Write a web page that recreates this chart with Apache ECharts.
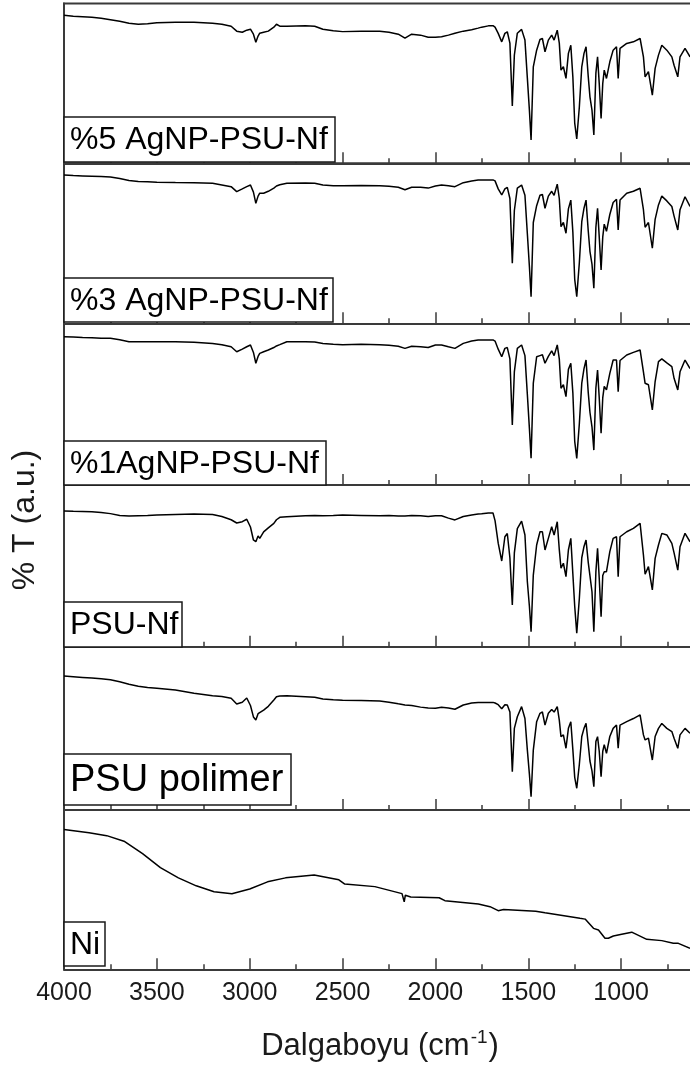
<!DOCTYPE html>
<html>
<head>
<meta charset="utf-8">
<script src="https://cdn.jsdelivr.net/npm/echarts@6/dist/echarts.min.js"></script>
<style>
html,body{margin:0;padding:0;background:#fff;}
#chart{width:690px;height:1070px;}
</style>
</head>
<body>
<div id="chart"></div>
<script>
// ---- DATA ----
const panelLabels = ['%5 AgNP-PSU-Nf', '%3 AgNP-PSU-Nf', '%1AgNP-PSU-Nf', 'PSU-Nf', 'PSU polimer', 'Ni'];
const xAxisTitle = 'Dalgaboyu (cm';
const xAxisTitleSup = '-1';
const yAxisTitle = '% T (a.u.)';

const wavenumbers = [
  4000, 3950, 3900, 3850, 3800, 3750, 3700, 3650, 3600, 3550, 3500,
  3400, 3300, 3200, 3150, 3100,
  3070, 3040, 3016, 2996, 2980, 2967, 2955, 2946, 2925, 2900, 2870, 2856, 2838,
  2800, 2700, 2650, 2606, 2550, 2500, 2400, 2300, 2250, 2200,
  2164, 2128, 2080, 2039, 2000, 1967, 1930, 1895, 1850, 1805, 1770, 1751, 1715, 1690, 1679,
  1662, 1643, 1626, 1613, 1599, 1586, 1575, 1559, 1536, 1518,
  1505, 1494, 1485, 1473, 1455, 1437, 1424, 1410, 1392, 1374,
  1361, 1344, 1333, 1324, 1311, 1297, 1284, 1271, 1260, 1250,
  1239, 1225, 1212, 1200, 1189, 1177, 1168, 1157, 1147, 1136,
  1127, 1118, 1108, 1099, 1091, 1079, 1061, 1043, 1025, 1016,
  1006, 970, 934, 898, 880, 871, 853, 832, 817, 799,
  781, 754, 727, 715, 695, 683, 656, 629
];

const psu5 = [
  92.7, 92, 91.7, 91.4, 90.8, 89.9, 88.9, 87.7, 87, 87.4, 88,
  88.3, 88.3, 87.7, 87, 85.8,
  82.7, 82, 83.3, 83.9, 80.8, 75.8, 79.6, 81.4, 82, 82.7, 85.2, 87, 85.8,
  85.8, 86, 85.8, 83.9, 83, 82.4, 82.7, 82.7, 82, 80.8,
  78.3, 80.8, 80.2, 78.9, 78.9, 79.2, 80.2, 81.4, 82.7, 83.6, 84.6, 85.2, 86, 86.1, 85.2,
  81.3, 76, 81.3, 82.3, 75.2, 35.8, 67.7, 81.4, 83.8, 77.1,
  53.3, 33.3, 14.6, 60.4, 70.8, 77.5, 78.1, 69.8, 77.1, 80.2,
  77.1, 83.3, 75.2, 58.3, 60.4, 53.1, 68.8, 73.9, 54.1, 25.2,
  15.2, 35.4, 60.4, 68.8, 72.9, 54.1, 41.6, 33.3, 17.7, 56.4,
  66.6, 50, 28.1, 50, 58.3, 53.1, 63.5, 70.8, 72.9, 53.1,
  71.9, 75, 76, 78.1, 66.6, 54.1, 57.3, 42.7, 59.4, 67.7,
  73.9, 70.8, 66.6, 61.4, 54.1, 66.6, 71.9, 66.6
];

const psu3 = [
  92.7, 92.3, 92.1, 91.9, 91.7, 91.4, 90.5, 89.2, 88.6, 88.4, 88.2,
  88, 87.9, 87.5, 86.5, 85.4,
  82.3, 84, 85.4, 86.4, 82, 75, 79.5, 81.3, 81.3, 82.5, 84.5, 85.8, 86.6,
  87.5, 87.7, 87.5, 86.5, 86, 86, 86.2, 86, 85.6, 85,
  83.5, 85, 85, 84.5, 85.8, 86.4, 86, 85.4, 87.9, 89, 89.6, 89.6, 89.6, 89.6, 89,
  84, 80.2, 84, 85, 78, 37.5, 70.5, 84.5, 86.4, 80,
  56, 35.5, 16.6, 63, 73.5, 80, 80.5, 71.9, 79.5, 82.5,
  80, 87, 78, 60.4, 63, 56.3, 71.5, 77, 57, 27.5,
  16.6, 38, 63.5, 72, 77, 57.5, 45, 37, 21.9, 60,
  71.9, 54, 33.3, 54, 62, 57.5, 68, 75.5, 77.5, 58.3,
  77, 81.3, 82.5, 84.4, 71, 60, 63, 46.9, 65, 74,
  79.5, 76.5, 73, 67, 58.3, 71, 79.1, 73
];

const psu1 = [
  91.7, 91.5, 91.2, 91, 90.8, 90.7, 89.8, 88.6, 88.6, 88.6, 88.6,
  88.6, 88.3, 87.5, 86.8, 85.5,
  82.4, 84, 85.5, 86.6, 82, 75.3, 79.5, 81.4, 82.4, 83.5, 85, 86, 86.8,
  88.6, 88.6, 88.4, 87.5, 87, 86.8, 87, 86.8, 86.4, 85.8,
  84.5, 85.8, 85.5, 85, 86.6, 86.6, 85.5, 84.5, 87.6, 89, 89.7, 89.7, 89.7, 89.7, 89,
  84, 79.3, 84.5, 85, 78, 37.1, 70, 84.5, 86.6, 80,
  56, 35, 16.5, 63, 79.3, 80, 80.5, 75.3, 79.5, 83,
  80, 86.6, 78, 59.8, 62, 54.6, 71.5, 75.3, 57, 27,
  16.5, 38, 63, 72, 77.3, 57, 45, 36, 21.6, 60,
  71.1, 54, 32, 54, 61, 58.8, 69, 77.3, 77.3, 57.7,
  77, 80.4, 82, 83.5, 70, 62.9, 62, 46.4, 64, 76.3,
  78, 75.5, 73.2, 66, 58.8, 70, 77.3, 72
];

const psuNf = [
  83.9, 83.7, 83.6, 83.4, 83, 82.3, 81.2, 80.8, 81, 81.2, 81.5,
  81.8, 82, 81.8, 80.5, 78.5,
  76.5, 77.3, 78.8, 74, 66, 64.9, 68.5, 67, 71, 73.5, 76.3, 78.5, 80,
  80.4, 81, 81.2, 81, 81.2, 81.4, 81.2, 81, 81.2, 80.8,
  80.8, 81.2, 81, 80.5, 81, 81, 79.5, 78.4, 80.5, 81.5, 82, 82.2, 82.7, 82.7, 78,
  64, 53, 68, 70, 55, 25.8, 58, 73, 77.7, 69.1,
  40.2, 25, 9.3, 44.3, 62.9, 71.1, 71.1, 59.8, 67, 74.2,
  69.1, 77.3, 60, 48.5, 51.6, 43.3, 59.8, 67, 45, 25,
  8.3, 30, 55, 62, 66, 52, 44, 34, 9.3, 46.4,
  60.9, 42.3, 18.6, 44, 46.4, 46.4, 58.8, 67, 68, 43.3,
  68, 71.1, 73.2, 76.3, 56.7, 44.8, 49.5, 35.1, 54.6, 62.9,
  70.1, 69.1, 63.9, 58, 47.4, 61.8, 70.1, 64.9
];

const psuPolimer = [
  82, 81.6, 81.2, 80.8, 80.3, 79.8, 78.5, 77, 75.8, 75, 74.5,
  73.5, 71.5, 70, 69.5, 68.4,
  64.9, 66, 68.6, 64, 57, 55.1, 59, 59.2, 61.2, 63.5, 67.4, 69.4, 69.8,
  69.9, 69.4, 69, 68, 67.5, 67.2, 67, 66.7, 66, 65,
  64.3, 64, 63, 62.5, 62.3, 62.9, 62.5, 61.7, 64.3, 65.5, 65.9, 65.9, 65.9, 65.9, 65.5,
  64.5, 62, 64.5, 64.3, 60, 23.5, 50, 57.1, 63.3, 56,
  36.7, 22, 8.1, 36.7, 54.1, 59.2, 60, 52, 59.2, 61.5,
  60, 63.3, 55, 44.9, 46, 37.8, 50, 54, 37, 20,
  13.3, 28, 45, 50, 53.1, 40, 30, 24, 14.3, 42,
  44.9, 36, 20.4, 36, 40, 34.7, 45, 50, 52, 37.8,
  52, 54.1, 56, 58.2, 46, 42.9, 44, 30.6, 45, 50,
  53, 50, 48, 44, 37.8, 46, 50, 47
];

const niWavenumbers = [
  4000, 3865, 3770, 3673, 3577, 3481, 3384, 3288, 3192, 3096,
  3000, 2904, 2807, 2653, 2520, 2488, 2326, 2180, 2168, 2162,
  2133, 1980, 1949, 1769, 1706, 1662, 1633, 1460, 1410, 1222,
  1194, 1149, 1122, 1087, 1069, 1042, 997, 943, 862, 781,
  719, 692, 629
];
const ni = [
  87.7, 85.7, 83.9, 80.2, 72.6, 63.8, 57.4, 52.4, 48.7, 47.4,
  50.4, 54.9, 57.4, 59.2, 56.2, 53.5, 51.9, 47.5, 42.4, 46.5,
  45.4, 44.9, 43.1, 41, 39.3, 36.8, 37.5, 36.5, 35.5, 32,
  31.5, 25.7, 24.7, 19.5, 19.5, 20.9, 22, 23.3, 18.8, 18,
  16.3, 16.3, 13.2
];

const spectra = [
  {x: wavenumbers, y: psu5},
  {x: wavenumbers, y: psu3},
  {x: wavenumbers, y: psu1},
  {x: wavenumbers, y: psuNf},
  {x: wavenumbers, y: psuPolimer},
  {x: niWavenumbers, y: ni}
];

// ---- LAYOUT ----
const FONT = '"Liberation Sans", Arial, sans-serif';
const PLOT_LEFT = 64, PLOT_WIDTH = 650;
const layout = [
  {top: 3.5,   bottom: 163.3, box: [64, 117, 271, 45], fs: 32},
  {top: 163.3, bottom: 323.3, box: [64, 278, 269, 44], fs: 32},
  {top: 323.3, bottom: 485,   box: [64, 441, 262, 44], fs: 32},
  {top: 485,   bottom: 646.7, box: [64, 602, 118, 45], fs: 32},
  {top: 646.7, bottom: 810,   box: [64, 754, 227, 51], fs: 38},
  {top: 810,   bottom: 969.3, box: [64, 922, 41, 44],  fs: 32}
];
const AXIS_COLOR = '#3a3a3a';

const grids = [], xAxes = [], yAxes = [], series = [], graphics = [];
layout.forEach((L, i) => {
  const last = i === layout.length - 1;
  grids.push({
    left: PLOT_LEFT, width: PLOT_WIDTH, top: L.top, height: L.bottom - L.top,
    outerBoundsMode: 'none', containLabel: false,
    show: i === 0, borderColor: AXIS_COLOR, borderWidth: 2, backgroundColor: 'transparent'
  });
  xAxes.push({
    type: 'value', gridIndex: i, min: 500, max: 4000, interval: 500, inverse: true,
    axisLine: {show: true, onZero: false, lineStyle: {color: AXIS_COLOR, width: 2}},
    axisTick: {show: true, inside: true, length: 11, lineStyle: {color: AXIS_COLOR, width: 1.5}},
    minorTick: {show: true, splitNumber: 2, length: 5, lineStyle: {color: AXIS_COLOR, width: 1.5}},
    axisLabel: {show: last, fontSize: 25, fontFamily: FONT, color: '#1a1a1a', margin: 11,
      showMinLabel: false, showMaxLabel: true, formatter: v => String(v)},
    splitLine: {show: false}, minorSplitLine: {show: false}
  });
  yAxes.push({
    type: 'value', gridIndex: i, min: 0, max: 100,
    axisLine: {show: true, onZero: false, lineStyle: {color: AXIS_COLOR, width: 2}},
    axisTick: {show: false}, axisLabel: {show: false}, splitLine: {show: false}
  });
  const S = spectra[i];
  series.push({
    type: 'line', xAxisIndex: i, yAxisIndex: i,
    data: S.x.map((w, k) => [w, S.y[k]]),
    showSymbol: false, symbol: 'none', smooth: false, clip: true,
    lineStyle: {color: '#000', width: 1.5}, animation: false, z: 3
  });
  const b = L.box;
  graphics.push({
    type: 'rect', z: 100,
    shape: {x: b[0], y: b[1], width: b[2], height: b[3]},
    style: {fill: '#fff', stroke: '#1a1a1a', lineWidth: 1.5}
  });
  graphics.push({
    type: 'text', z: 101,
    style: {x: b[0] + 6, y: b[1] + b[3] / 2 + 1, text: panelLabels[i],
      font: L.fs + 'px ' + FONT, fill: '#000', textVerticalAlign: 'middle', textAlign: 'left'}
  });
});

graphics.push({
  type: 'text', z: 101, x: 25, y: 520, rotation: Math.PI / 2,
  style: {text: yAxisTitle, font: '32px ' + FONT, fill: '#1a1a1a',
    textAlign: 'center', textVerticalAlign: 'middle'}
});
graphics.push({
  type: 'text', z: 101, x: 380, y: 1046,
  style: {
    text: '{a|' + xAxisTitle + '}{s|' + xAxisTitleSup + '}{a|)}',
    textAlign: 'center', textVerticalAlign: 'middle', fill: '#1a1a1a',
    rich: {
      a: {fontSize: 31, fontFamily: FONT, color: '#1a1a1a', lineHeight: 36},
      s: {fontSize: 19, fontFamily: FONT, color: '#1a1a1a', verticalAlign: 'top', lineHeight: 36, padding: [0, 1, 14, 1]}
    }
  }
});

const chart = echarts.init(document.getElementById('chart'), null, {renderer: 'canvas'});
chart.setOption({
  animation: false,
  backgroundColor: '#fff',
  grid: grids, xAxis: xAxes, yAxis: yAxes, series: series,
  graphic: graphics
});
</script>
</body>
</html>
